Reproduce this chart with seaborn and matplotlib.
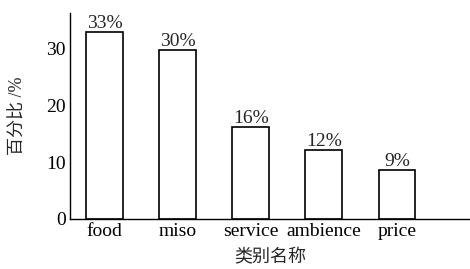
import pandas as pd
import seaborn as sns
import matplotlib.pyplot as plt

# Data
categories = ['food', 'miso', 'service', 'ambience', 'price']
values = [33.0, 29.8, 16.2, 12.1, 8.7]
value_labels = ['33%', '30%', '16%', '12%', '9%']
y_ticks = [0, 10, 20, 30]

df = pd.DataFrame({'category': categories, 'value': values})

sns.set_theme(style='white')
plt.rcParams['font.family'] = ['Liberation Serif', 'Noto Sans CJK SC']
plt.rcParams['font.size'] = 14

fig = plt.figure(figsize=(4.7, 2.69), dpi=100)
ax = fig.add_axes([0.149, 0.186, 0.851, 0.767])

sns.barplot(data=df, x='category', y='value', color='white', edgecolor='black',
            linewidth=1.2, width=0.5, saturation=1, ax=ax)

# Percent labels above the bars
ax.bar_label(ax.containers[0], labels=value_labels, padding=0, fontsize=14)

ax.set_xlim(-0.47, 5.0)
ax.set_ylim(0, 36.4)
ax.set_yticks(y_ticks)
ax.tick_params(axis='x', length=0, labelsize=14, colors='black', pad=3)
ax.tick_params(axis='y', length=0, labelsize=14, colors='black', pad=3)

for side in ['top', 'right']:
    ax.spines[side].set_visible(False)
for side in ['left', 'bottom']:
    ax.spines[side].set_color('black')
    ax.spines[side].set_linewidth(1.0)

ax.set_xlabel('类别名称', fontsize=13, family=['Noto Sans CJK SC'],
              fontweight='medium', labelpad=6)
ax.set_ylabel('百分比 /%', fontsize=13, labelpad=14)

fig.savefig('out.png', dpi=100)
